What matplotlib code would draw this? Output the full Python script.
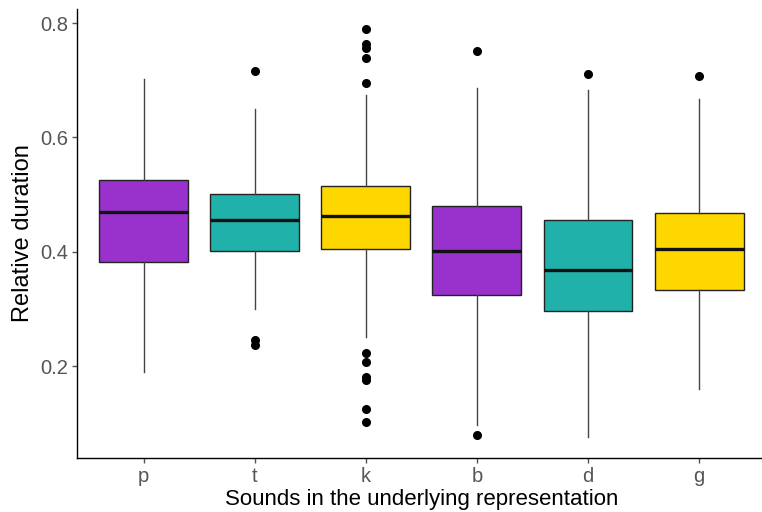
import matplotlib
matplotlib.use("Agg")
import matplotlib.pyplot as plt

plt.rcParams['font.family'] = ['Liberation Sans', 'DejaVu Sans']

sounds = ["p", "t", "k", "b", "d", "g"]
whislo = [0.191, 0.300, 0.251, 0.098, 0.076, 0.161]
q1 = [0.382, 0.401, 0.405, 0.324, 0.296, 0.333]
med = [0.469, 0.455, 0.462, 0.401, 0.368, 0.406]
q3 = [0.525, 0.501, 0.515, 0.480, 0.455, 0.468]
whishi = [0.702, 0.650, 0.674, 0.686, 0.683, 0.667]
outliers = [
    [],
    [0.716, 0.247, 0.237],
    [0.789, 0.763, 0.756, 0.739, 0.695, 0.224, 0.207, 0.182, 0.177, 0.126, 0.102],
    [0.751, 0.081],
    [0.711],
    [0.707],
]
colors = ["#9932CC", "#20B2AA", "#FFD700", "#9932CC", "#20B2AA", "#FFD700"]

stats = []
for i in range(len(sounds)):
    stats.append({"label": sounds[i], "whislo": whislo[i], "q1": q1[i], "med": med[i],
                  "q3": q3[i], "whishi": whishi[i], "fliers": outliers[i]})

fig = plt.figure(figsize=(7.62, 5.12), dpi=100)
ax = fig.add_axes([0.101, 0.1055, 0.904, 0.8775])

bp = ax.bxp(stats, positions=range(1, 7), widths=0.8, patch_artist=True, showcaps=False,
            boxprops=dict(edgecolor="#222222", linewidth=1.0),
            medianprops=dict(color="#111111", linewidth=2.4),
            whiskerprops=dict(color="#444444", linewidth=1.0),
            flierprops=dict(marker="o", markerfacecolor="black", markeredgecolor="black",
                            markersize=5.5))
for patch, c in zip(bp["boxes"], colors):
    patch.set_facecolor(c)

ax.set_xlim(0.4, 6.6)
ax.set_ylim(0.040, 0.825)
ax.set_yticks([0.2, 0.4, 0.6, 0.8])
ax.set_yticklabels(["0.2", "0.4", "0.6", "0.8"])
ax.set_xticks(range(1, 7))
ax.set_xticklabels(sounds)

for s in ["top", "right"]:
    ax.spines[s].set_visible(False)
for s in ["left", "bottom"]:
    ax.spines[s].set_color("black")
    ax.spines[s].set_linewidth(1.0)

ax.tick_params(colors="#555555", labelsize=14.5, length=3.5, width=1, pad=3)
ax.set_xlabel("Sounds in the underlying representation", fontsize=16, labelpad=2)
ax.set_ylabel("Relative duration", fontsize=17, labelpad=4)

fig.savefig("out.png", dpi=100)
